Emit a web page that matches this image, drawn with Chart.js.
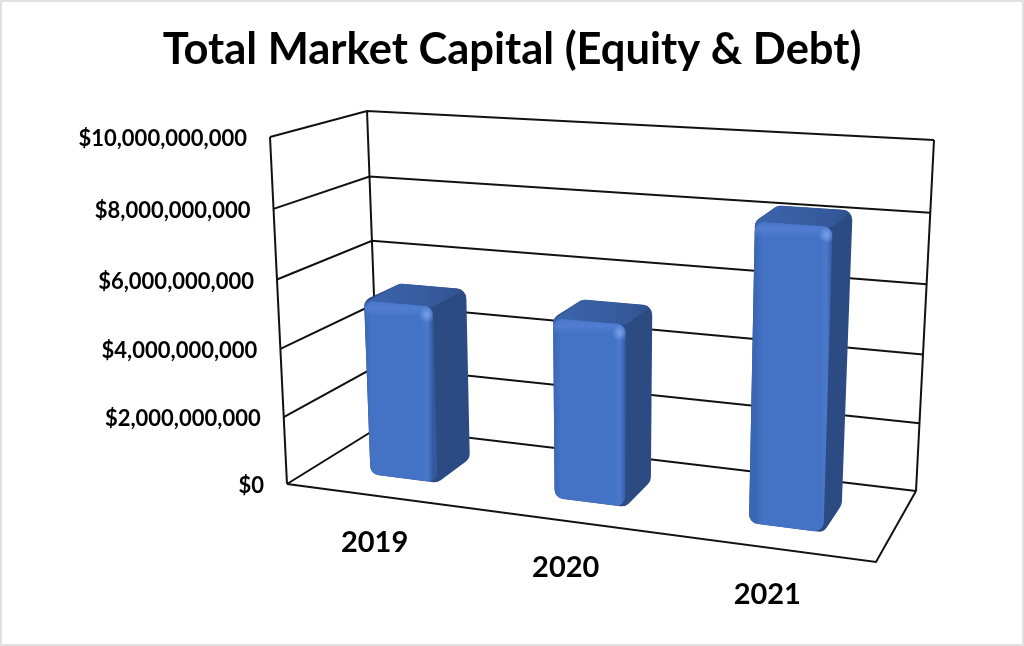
<!DOCTYPE html>
<html>
<head>
<meta charset="utf-8">
<title>Total Market Capital (Equity & Debt)</title>
<script src="https://cdn.jsdelivr.net/npm/chart.js@4"></script>
<style>
    html, body { margin: 0; padding: 0; background: #fff; }
    canvas { display: block; outline: 2px solid #e0e0e0; outline-offset: -2px; }
</style>
</head>
<body>
<canvas id="marketChart" width="1024" height="646"></canvas>
<script>
// data
const years = ['2019', '2020', '2021'];
const marketCapital = [5200000000, 5200000000, 8300000000];
const axisMax = 10000000000;
const axisStep = 2000000000;

// the box of the 3D plot on the page: [x, y] of its eight corners
// first letter front/back, second left/right, third bottom/top
const box = {
    flb: [287, 484], frb: [876, 562], blb: [379, 427], brb: [916, 491],
    flt: [270, 137], frt: [889, 177], blt: [367, 111], brt: [934, 140]
};
const barDepth = [0.3, 0.7];

// u = across, v = up, w = into the page, all 0..1
function project(u, v, w) {
    const uu = u - 0.08 * u * (1 - u);
    const vv = v - 0.045 * v * (1 - v);
    const point = i => {
        const front = (box.flb[i] * (1 - uu) + box.frb[i] * uu) * (1 - vv) + (box.flt[i] * (1 - uu) + box.frt[i] * uu) * vv;
        const back = (box.blb[i] * (1 - uu) + box.brb[i] * uu) * (1 - vv) + (box.blt[i] * (1 - uu) + box.brt[i] * uu) * vv;
        return front * (1 - w) + back * w;
    };
    return [point(0), point(1)];
}

function polyline(ctx, pts) {
    ctx.beginPath();
    pts.forEach((p, i) => i ? ctx.lineTo(p[0], p[1]) : ctx.moveTo(p[0], p[1]));
    ctx.stroke();
}

function roundedPath(ctx, pts, r) {
    const n = pts.length;
    ctx.beginPath();
    ctx.moveTo((pts[0][0] + pts[1][0]) / 2, (pts[0][1] + pts[1][1]) / 2);
    for (let i = 1; i <= n; i++) {
        const p = pts[i % n], next = pts[(i + 1) % n];
        ctx.arcTo(p[0], p[1], (p[0] + next[0]) / 2, (p[1] + next[1]) / 2, r);
    }
    ctx.closePath();
}

// walls, floor and gridlines, positions come from the value scale
const wireframe = {
    id: 'wireframe',
    beforeDatasetsDraw(chart) {
        const { ctx, scales: { y } } = chart;
        const level = value => (y.bottom - y.getPixelForValue(value)) / (y.bottom - y.top);
        ctx.save();
        ctx.strokeStyle = '#111';
        ctx.lineWidth = 2;
        ctx.lineJoin = 'miter';
        y.ticks.forEach(t => {
            const v = level(t.value);
            polyline(ctx, [project(0, v, 0), project(0, v, 1), project(1, v, 1)]);
        });
        polyline(ctx, [project(0, 0, 0), project(0, 1, 0)]);
        polyline(ctx, [project(0, 0, 1), project(0, 1, 1)]);
        polyline(ctx, [project(1, 0, 1), project(1, 1, 1)]);
        polyline(ctx, [project(0, 0, 0), project(1, 0, 0), project(1, 0, 1)]);
        ctx.restore();
    }
};

// bars: the library gives x, y, base and width, this only turns them into a box
const bars3d = {
    id: 'bars3d',
    beforeDatasetDraw(chart, args) {
        const { ctx, chartArea: area } = chart;
        const [w0, w1] = barDepth;
        chart.getDatasetMeta(args.index).data.forEach(bar => {
            const { x, y, base, width } = bar.getProps(['x', 'y', 'base', 'width'], true);
            const u0 = (x - width / 2 - area.left) / area.width;
            const u1 = (x + width / 2 - area.left) / area.width;
            const v0 = (area.bottom - base) / area.height;
            const v1 = (area.bottom - y) / area.height;
            const fl0 = project(u0, v0, w0), fr0 = project(u1, v0, w0);
            const fl1 = project(u0, v1, w0), fr1 = project(u1, v1, w0);
            const bl1 = project(u0, v1, w1), br1 = project(u1, v1, w1), br0 = project(u1, v0, w1);

            ctx.save();
            // silhouette = right side colour
            roundedPath(ctx, [fl1, bl1, br1, br0, fr0, fl0], 10);
            ctx.fillStyle = '#2c4b82';
            ctx.fill();
            // top face
            ctx.save();
            ctx.clip();
            const topGrad = ctx.createLinearGradient(fl1[0], 0, br1[0], 0);
            topGrad.addColorStop(0, '#3c65ad');
            topGrad.addColorStop(0.75, '#35599b');
            topGrad.addColorStop(1, '#2f5190');
            ctx.fillStyle = topGrad;
            ctx.beginPath();
            ctx.moveTo(fl1[0] - 6, fl1[1] + 6);
            [bl1, br1, fr1].forEach(p => ctx.lineTo(p[0], p[1]));
            ctx.closePath();
            ctx.fill();
            ctx.restore();
            // front face
            roundedPath(ctx, [fl1, fr1, fr0, fl0], 9);
            const grad = ctx.createLinearGradient(fl1[0], 0, fr1[0], 0);
            grad.addColorStop(0, '#3a66b4');
            grad.addColorStop(0.1, '#4472c4');
            grad.addColorStop(0.84, '#4472c4');
            grad.addColorStop(0.92, '#4a79cc');
            grad.addColorStop(1, '#35599f');
            ctx.fillStyle = grad;
            ctx.fill();
            ctx.clip();
            const shine = ctx.createLinearGradient(0, fl1[1], 0, fl1[1] + 16);
            shine.addColorStop(0, 'rgba(85,130,215,0.2)');
            shine.addColorStop(0.5, 'rgba(85,130,215,0.7)');
            shine.addColorStop(1, 'rgba(85,130,215,0)');
            ctx.fillStyle = shine;
            ctx.fillRect(fl1[0] - 5, Math.min(fl1[1], fr1[1]) - 5, fr1[0] - fl1[0] + 10, 40);
            const glow = ctx.createRadialGradient(fr1[0] - 6, fr1[1] + 8, 0, fr1[0] - 6, fr1[1] + 8, 8);
            glow.addColorStop(0, 'rgba(125,165,240,0.9)');
            glow.addColorStop(1, 'rgba(125,165,240,0)');
            ctx.fillStyle = glow;
            ctx.fillRect(fr1[0] - 16, fr1[1] - 2, 20, 20);
            ctx.restore();
        });
        return false;
    }
};

// tick labels stay the library's, only moved along the slanted edges of the box
const slantedLabels = {
    id: 'slantedLabels',
    beforeDraw(chart) {
        const { chartArea: area, scales: { x, y } } = chart;
        y.getLabelItems(area).forEach((item, i) => {
            const v = (y.bottom - y.getPixelForValue(y.ticks[i].value)) / (y.bottom - y.top);
            const p = project(0, v, 0);
            item.options.translation = [p[0] - 23, p[1] + 2];
            item.options.textBaseline = 'middle';
            item.options.textAlign = 'right';
        });
        x.getLabelItems(area).forEach((item, i) => {
            const u = (x.getPixelForTick(i) - area.left) / area.width;
            const p = project(u, 0, 0);
            item.options.translation = [p[0] - 4, p[1] + 64];
            item.options.textBaseline = 'middle';
            item.options.textAlign = 'center';
        });
    }
};

new Chart(document.getElementById('marketChart'), {
    type: 'bar',
    data: {
        labels: years,
        datasets: [{
            label: 'Total Market Capital',
            data: marketCapital,
            backgroundColor: '#4472C4',
            categoryPercentage: 1,
            barPercentage: 0.37
        }]
    },
    plugins: [slantedLabels, wireframe, bars3d],
    options: {
        responsive: false,
        animation: false,
        layout: { padding: { top: 18, bottom: 60 } },
        plugins: {
            legend: { display: false },
            tooltip: { enabled: false },
            title: {
                display: true,
                text: 'Total Market Capital (Equity & Debt)',
                color: '#000',
                font: { family: 'Lato', size: 43.5, weight: 'bold' },
                padding: { top: 6, bottom: 40 }
            }
        },
        scales: {
            x: {
                grid: { display: false, drawTicks: false },
                border: { display: false },
                // mirror keeps the scale from clipping the moved labels
                ticks: { mirror: true, color: '#000', font: { family: 'Lato', size: 29, weight: 'bold' } }
            },
            y: {
                min: 0,
                max: axisMax,
                grid: { display: false, drawTicks: false },
                border: { display: false },
                ticks: {
                    mirror: true,
                    stepSize: axisStep,
                    color: '#000',
                    font: { family: 'Lato', size: 22, weight: 'bold' },
                    callback: value => '$' + value.toLocaleString('en-US')
                }
            }
        }
    }
});
</script>
</body>
</html>
